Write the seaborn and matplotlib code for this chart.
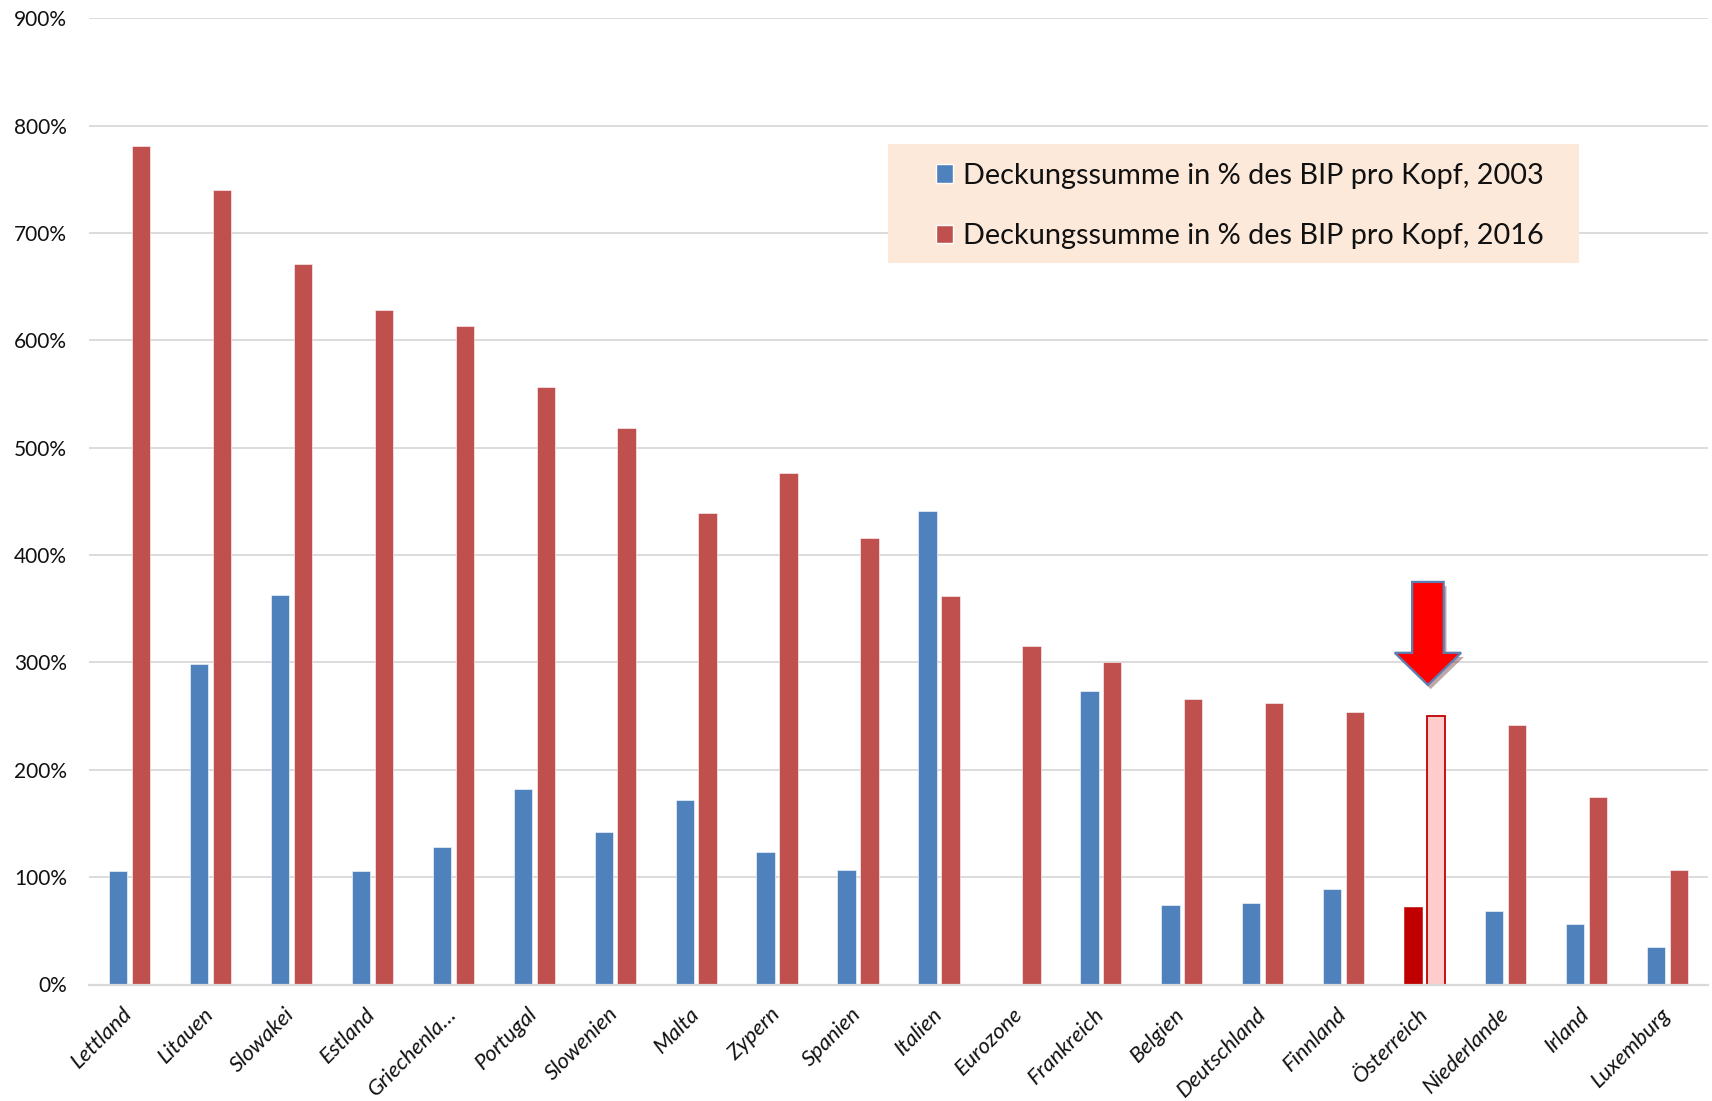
import matplotlib
matplotlib.use("Agg")
import matplotlib.pyplot as plt
import matplotlib.patheffects as pe
from matplotlib.patches import Patch, Polygon, Rectangle
import numpy as np
import pandas as pd
import seaborn as sns

# Deposit guarantee coverage in % of GDP per capita
laender = ["Lettland", "Litauen", "Slowakei", "Estland", "Griechenland", "Portugal",
           "Slowenien", "Malta", "Zypern", "Spanien", "Italien", "Eurozone",
           "Frankreich", "Belgien", "Deutschland", "Finnland", "Österreich",
           "Niederlande", "Irland", "Luxemburg"]
tick_labels = ["Lettland", "Litauen", "Slowakei", "Estland", "Griechenla…", "Portugal",
               "Slowenien", "Malta", "Zypern", "Spanien", "Italien", "Eurozone",
               "Frankreich", "Belgien", "Deutschland", "Finnland", "Österreich",
               "Niederlande", "Irland", "Luxemburg"]
werte_2003 = [106, 299, 363, 106, 128, 182, 142, 172, 123, 107, 441, np.nan,
              273, 74, 76, 89, 72, 68, 56, 35]
werte_2016 = [781, 740, 671, 628, 613, 557, 518, 439, 476, 416, 362, 315,
              300, 266, 262, 254, 250, 242, 175, 107]
serie_2003 = "Deckungssumme in % des BIP pro Kopf, 2003"
serie_2016 = "Deckungssumme in % des BIP pro Kopf, 2016"
y_ticks = [0, 100, 200, 300, 400, 500, 600, 700, 800, 900]
hervorgehoben = "Österreich"

BLUE = "#4F81BD"
RED = "#C0504D"
DARKRED = "#C00000"
PINK = "#FFCCCC"
GRID = "#D9D9D9"
FONT = ["Lato", "DejaVu Sans"]

df = pd.concat([
    pd.DataFrame({"Land": laender, "Serie": serie_2003, "Wert": werte_2003}),
    pd.DataFrame({"Land": laender, "Serie": serie_2016, "Wert": werte_2016}),
]).dropna()

sns.set_style("white")
plt.rcParams["font.family"] = FONT

W, H = 1712, 1101
fig = plt.figure(figsize=(W / 100, H / 100), dpi=100)
ax = fig.add_axes([89 / W, 1 - 984.5 / H, (1708 - 89) / W, (984.5 - 18.3) / H])

sns.barplot(data=df, x="Land", y="Wert", hue="Serie", order=laender,
            hue_order=[serie_2003, serie_2016], palette=[BLUE, RED],
            saturation=1, width=0.566, gap=0.2, errorbar=None, legend=False,
            edgecolor="white", linewidth=0.4, ax=ax)

# highlight Austria
idx = laender.index(hervorgehoben)
for p in ax.patches:
    cx = p.get_x() + p.get_width() / 2
    if abs(cx - idx) < 0.4:
        if cx < idx:
            p.set_facecolor(DARKRED)
            p.set_edgecolor(DARKRED)
        else:
            p.set_facecolor(PINK)
            p.set_edgecolor(DARKRED)
            p.set_linewidth(1.3)

ax.set_xlim(-0.5, len(laender) - 0.5)
ax.set_ylim(0, 900)
ax.set_yticks(y_ticks)
ax.set_yticklabels([f"{v}%" for v in y_ticks])
ax.yaxis.grid(True, color=GRID, linewidth=1.3)
ax.set_axisbelow(True)
for s in ["top", "right", "left"]:
    ax.spines[s].set_visible(False)
ax.spines["bottom"].set_color(GRID)
ax.spines["bottom"].set_linewidth(1.6)
ax.set_xlabel("")
ax.set_ylabel("")
ax.tick_params(axis="y", length=0, pad=16, labelsize=15, labelcolor="#111111")
ax.tick_params(axis="x", length=0, pad=19)
ax.set_xticks(range(len(laender)))
ax.set_xticklabels(tick_labels, rotation=45, ha="right", va="center",
                   rotation_mode="anchor", fontsize=16, style="italic",
                   color="#111111")

# arrow pointing at the highlighted 2016 bar
tip = werte_2016[idx] + 30
cx = idx + 0.04
arrow = Polygon([(cx - 0.195, tip + 95), (cx + 0.195, tip + 95), (cx + 0.195, tip + 29),
                 (cx + 0.41, tip + 29), (cx, tip - 1), (cx - 0.41, tip + 29),
                 (cx - 0.195, tip + 29)],
                closed=True, facecolor="#FF0000", edgecolor="#5A7FB5",
                linewidth=1.6, zorder=6, clip_on=False,
                path_effects=[pe.SimplePatchShadow(offset=(2, -3), alpha=0.35),
                              pe.Normal()])
ax.add_patch(arrow)

# legend with shaded background box
ax.add_patch(Rectangle((887.6 / W, 1 - 263 / H), (1578.8 - 887.6) / W, (263 - 144) / H,
                       transform=fig.transFigure, facecolor="#FDE9D9",
                       edgecolor="none", zorder=4.5, clip_on=False))
handles = [Patch(facecolor=BLUE, label=serie_2003), Patch(facecolor=RED, label=serie_2016)]
leg = ax.legend(handles=handles, loc="center left",
                bbox_to_anchor=(936 / W, 1 - 206 / H), bbox_transform=fig.transFigure,
                frameon=False, borderpad=0, borderaxespad=0, fontsize=20.8,
                handlelength=0.6, handleheight=0.6, handletextpad=0.33,
                labelspacing=1.2)
leg.set_zorder(5)
for t in leg.get_texts():
    t.set_color("#111111")

fig.savefig("out.png", dpi=100, facecolor="white")
